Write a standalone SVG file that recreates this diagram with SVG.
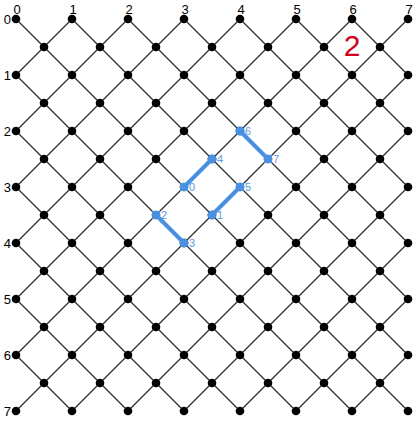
<svg xmlns="http://www.w3.org/2000/svg" xmlns:xlink="http://www.w3.org/1999/xlink" width="415" height="426" viewBox="0 0 415 426">
<style>
.grid line{stroke:#222;stroke-width:1.1}
.dot{fill:#000}
.ax{font-family:"Liberation Sans",Arial,sans-serif;font-size:13px;fill:#000}
.bl{stroke:#4a90e2;stroke-width:4;stroke-linecap:round}
.bp{fill:#4a90e2}
.lab{font-family:"Liberation Sans",Arial,sans-serif;font-size:11px;fill:#5a9ae6}
.big{font-family:"Liberation Sans",Arial,sans-serif;font-size:30px;fill:#d0021b}
</style>
<defs>
<circle id="d" r="4.3" class="dot"/>
</defs>
<rect width="415" height="426" fill="#fff"/>
<g id="connectors" class="grid">
<line x1="16" y1="19" x2="408" y2="411"/>
<line x1="72" y1="19" x2="408" y2="355"/>
<line x1="128" y1="19" x2="408" y2="299"/>
<line x1="184" y1="19" x2="408" y2="243"/>
<line x1="240" y1="19" x2="408" y2="187"/>
<line x1="296" y1="19" x2="408" y2="131"/>
<line x1="352" y1="19" x2="408" y2="75"/>
<line x1="16" y1="75" x2="352" y2="411"/>
<line x1="16" y1="131" x2="296" y2="411"/>
<line x1="16" y1="187" x2="240" y2="411"/>
<line x1="16" y1="243" x2="184" y2="411"/>
<line x1="16" y1="299" x2="128" y2="411"/>
<line x1="16" y1="355" x2="72" y2="411"/>
<line x1="72" y1="19" x2="16" y2="75"/>
<line x1="128" y1="19" x2="16" y2="131"/>
<line x1="184" y1="19" x2="16" y2="187"/>
<line x1="240" y1="19" x2="16" y2="243"/>
<line x1="296" y1="19" x2="16" y2="299"/>
<line x1="352" y1="19" x2="16" y2="355"/>
<line x1="408" y1="19" x2="16" y2="411"/>
<line x1="408" y1="75" x2="72" y2="411"/>
<line x1="408" y1="131" x2="128" y2="411"/>
<line x1="408" y1="187" x2="184" y2="411"/>
<line x1="408" y1="243" x2="240" y2="411"/>
<line x1="408" y1="299" x2="296" y2="411"/>
<line x1="408" y1="355" x2="352" y2="411"/>
</g>
<g id="dots">
<use xlink:href="#d" x="16" y="19"/><use xlink:href="#d" x="72" y="19"/><use xlink:href="#d" x="128" y="19"/><use xlink:href="#d" x="184" y="19"/><use xlink:href="#d" x="240" y="19"/><use xlink:href="#d" x="296" y="19"/><use xlink:href="#d" x="352" y="19"/><use xlink:href="#d" x="408" y="19"/>
<use xlink:href="#d" x="16" y="75"/><use xlink:href="#d" x="72" y="75"/><use xlink:href="#d" x="128" y="75"/><use xlink:href="#d" x="184" y="75"/><use xlink:href="#d" x="240" y="75"/><use xlink:href="#d" x="296" y="75"/><use xlink:href="#d" x="352" y="75"/><use xlink:href="#d" x="408" y="75"/>
<use xlink:href="#d" x="16" y="131"/><use xlink:href="#d" x="72" y="131"/><use xlink:href="#d" x="128" y="131"/><use xlink:href="#d" x="184" y="131"/><use xlink:href="#d" x="240" y="131"/><use xlink:href="#d" x="296" y="131"/><use xlink:href="#d" x="352" y="131"/><use xlink:href="#d" x="408" y="131"/>
<use xlink:href="#d" x="16" y="187"/><use xlink:href="#d" x="72" y="187"/><use xlink:href="#d" x="128" y="187"/><use xlink:href="#d" x="184" y="187"/><use xlink:href="#d" x="240" y="187"/><use xlink:href="#d" x="296" y="187"/><use xlink:href="#d" x="352" y="187"/><use xlink:href="#d" x="408" y="187"/>
<use xlink:href="#d" x="16" y="243"/><use xlink:href="#d" x="72" y="243"/><use xlink:href="#d" x="128" y="243"/><use xlink:href="#d" x="184" y="243"/><use xlink:href="#d" x="240" y="243"/><use xlink:href="#d" x="296" y="243"/><use xlink:href="#d" x="352" y="243"/><use xlink:href="#d" x="408" y="243"/>
<use xlink:href="#d" x="16" y="299"/><use xlink:href="#d" x="72" y="299"/><use xlink:href="#d" x="128" y="299"/><use xlink:href="#d" x="184" y="299"/><use xlink:href="#d" x="240" y="299"/><use xlink:href="#d" x="296" y="299"/><use xlink:href="#d" x="352" y="299"/><use xlink:href="#d" x="408" y="299"/>
<use xlink:href="#d" x="16" y="355"/><use xlink:href="#d" x="72" y="355"/><use xlink:href="#d" x="128" y="355"/><use xlink:href="#d" x="184" y="355"/><use xlink:href="#d" x="240" y="355"/><use xlink:href="#d" x="296" y="355"/><use xlink:href="#d" x="352" y="355"/><use xlink:href="#d" x="408" y="355"/>
<use xlink:href="#d" x="16" y="411"/><use xlink:href="#d" x="72" y="411"/><use xlink:href="#d" x="128" y="411"/><use xlink:href="#d" x="184" y="411"/><use xlink:href="#d" x="240" y="411"/><use xlink:href="#d" x="296" y="411"/><use xlink:href="#d" x="352" y="411"/><use xlink:href="#d" x="408" y="411"/>
<use xlink:href="#d" x="44" y="47"/><use xlink:href="#d" x="100" y="47"/><use xlink:href="#d" x="156" y="47"/><use xlink:href="#d" x="212" y="47"/><use xlink:href="#d" x="268" y="47"/><use xlink:href="#d" x="324" y="47"/><use xlink:href="#d" x="380" y="47"/>
<use xlink:href="#d" x="44" y="103"/><use xlink:href="#d" x="100" y="103"/><use xlink:href="#d" x="156" y="103"/><use xlink:href="#d" x="212" y="103"/><use xlink:href="#d" x="268" y="103"/><use xlink:href="#d" x="324" y="103"/><use xlink:href="#d" x="380" y="103"/>
<use xlink:href="#d" x="44" y="159"/><use xlink:href="#d" x="100" y="159"/><use xlink:href="#d" x="156" y="159"/><use xlink:href="#d" x="212" y="159"/><use xlink:href="#d" x="268" y="159"/><use xlink:href="#d" x="324" y="159"/><use xlink:href="#d" x="380" y="159"/>
<use xlink:href="#d" x="44" y="215"/><use xlink:href="#d" x="100" y="215"/><use xlink:href="#d" x="156" y="215"/><use xlink:href="#d" x="212" y="215"/><use xlink:href="#d" x="268" y="215"/><use xlink:href="#d" x="324" y="215"/><use xlink:href="#d" x="380" y="215"/>
<use xlink:href="#d" x="44" y="271"/><use xlink:href="#d" x="100" y="271"/><use xlink:href="#d" x="156" y="271"/><use xlink:href="#d" x="212" y="271"/><use xlink:href="#d" x="268" y="271"/><use xlink:href="#d" x="324" y="271"/><use xlink:href="#d" x="380" y="271"/>
<use xlink:href="#d" x="44" y="327"/><use xlink:href="#d" x="100" y="327"/><use xlink:href="#d" x="156" y="327"/><use xlink:href="#d" x="212" y="327"/><use xlink:href="#d" x="268" y="327"/><use xlink:href="#d" x="324" y="327"/><use xlink:href="#d" x="380" y="327"/>
<use xlink:href="#d" x="44" y="383"/><use xlink:href="#d" x="100" y="383"/><use xlink:href="#d" x="156" y="383"/><use xlink:href="#d" x="212" y="383"/><use xlink:href="#d" x="268" y="383"/><use xlink:href="#d" x="324" y="383"/><use xlink:href="#d" x="380" y="383"/>
</g>
<g id="axis-labels" class="ax">
<g text-anchor="middle">
<text x="17" y="14">0</text><text x="73" y="14">1</text><text x="129" y="14">2</text><text x="185" y="14">3</text><text x="241" y="14">4</text><text x="297" y="14">5</text><text x="353" y="14">6</text><text x="409" y="14">7</text>
</g>
<g text-anchor="end">
<text x="11" y="24">0</text><text x="11" y="80">1</text><text x="11" y="136">2</text><text x="11" y="192">3</text><text x="11" y="248">4</text><text x="11" y="304">5</text><text x="11" y="360">6</text><text x="11" y="416">7</text>
</g>
</g>
<g id="path-connectors">
<line class="bl" x1="240" y1="131" x2="268" y2="159"/>
<line class="bl" x1="212" y1="159" x2="184" y2="187"/>
<line class="bl" x1="240" y1="187" x2="212" y2="215"/>
<line class="bl" x1="156" y1="215" x2="184" y2="243"/>
</g>
<g id="p0"><rect class="bp" x="180" y="183" width="8" height="8"/><text class="lab" x="189" y="191">0</text></g>
<g id="p1"><circle class="bp" cx="212" cy="215" r="4.5"/><text class="lab" x="217" y="219">1</text></g>
<g id="p2"><rect class="bp" x="152" y="211" width="8" height="8"/><text class="lab" x="161" y="219">2</text></g>
<g id="p3"><circle class="bp" cx="184" cy="243" r="4.5"/><text class="lab" x="189" y="247">3</text></g>
<g id="p4"><circle class="bp" cx="212" cy="159" r="4.5"/><text class="lab" x="217" y="163">4</text></g>
<g id="p5"><rect class="bp" x="236" y="183" width="8" height="8"/><text class="lab" x="245" y="191">5</text></g>
<g id="p6"><circle class="bp" cx="240" cy="131" r="4.5"/><text class="lab" x="245" y="135">6</text></g>
<g id="p7"><rect class="bp" x="264" y="155" width="8" height="8"/><text class="lab" x="273" y="163">7</text></g>
<text class="big" x="352" y="56" text-anchor="middle">2</text>
</svg>
